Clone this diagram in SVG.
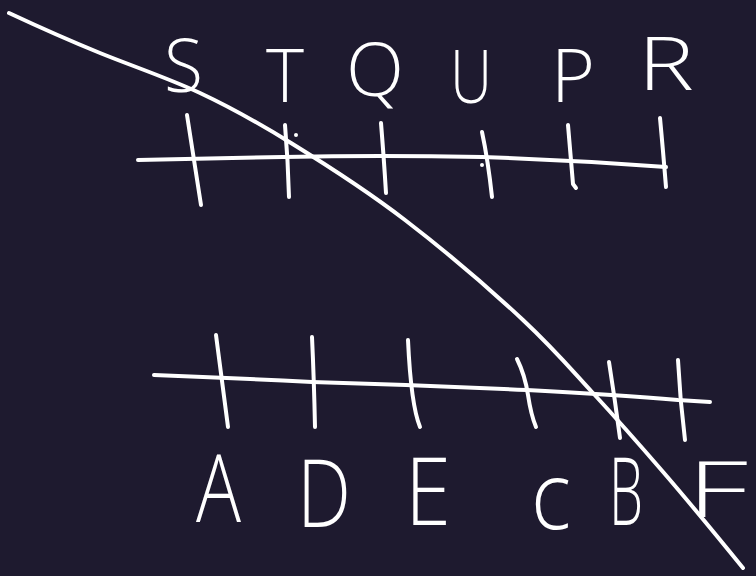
<svg xmlns="http://www.w3.org/2000/svg" width="756" height="576" viewBox="0 0 756 576">
<style>
.ln{fill:none;stroke:#ffffff;stroke-width:4;stroke-linecap:round;stroke-linejoin:round}
.lt{fill:#ffffff;font-family:"Open Sans","Lato","Liberation Sans",sans-serif;font-weight:300}
.top{font-size:74px}
.bot{font-size:94px}
</style>
<rect width="756" height="576" fill="#1e1a2f"/>
<g id="top-axis">
<path class="ln" d="M138,160 Q210,158 283,157 Q380,155 482,157 Q575,160 666,167"/>
<path class="ln" d="M187,115 Q194,160 201,205"/>
<path class="ln" d="M285,125 Q288,160 289,197"/>
<path class="ln" d="M381,123 Q384,160 386,193"/>
<path class="ln" d="M482,132 Q488,160 492,197"/>
<path class="ln" d="M568,125 Q571,160 573,184 L576,188"/>
<path class="ln" d="M660,118 Q663,150 666,187"/>
<circle cx="296" cy="135" r="2" fill="#ffffff"/>
<circle cx="482" cy="165" r="2" fill="#ffffff"/>
</g>
<g id="top-labels">
<text class="lt top" x="164" y="92" textLength="39" lengthAdjust="spacingAndGlyphs">S</text>
<text class="lt top" x="266" y="102" textLength="38" lengthAdjust="spacingAndGlyphs">T</text>
<text class="lt top" x="346" y="96" textLength="58" lengthAdjust="spacingAndGlyphs">Q</text>
<text class="lt top" x="450" y="103" textLength="42" lengthAdjust="spacingAndGlyphs">U</text>
<text class="lt top" x="551" y="102" textLength="44" lengthAdjust="spacingAndGlyphs">P</text>
<text class="lt top" x="638" y="90" textLength="56" lengthAdjust="spacingAndGlyphs">R</text>
</g>
<g id="bottom-axis">
<path class="ln" d="M154,375 Q230,378 312,382 Q420,385 527,390 Q620,395 678,400 L710,402"/>
<path class="ln" d="M216,335 Q222,380 228,427"/>
<path class="ln" d="M312,337 Q314,380 315,427"/>
<path class="ln" d="M408,340 Q411,405 420,427"/>
<path class="ln" d="M517,359 Q525,375 528,395 Q531,415 536,427"/>
<path class="ln" d="M609,362 Q615,400 620,438"/>
<path class="ln" d="M678,360 Q680,400 685,440"/>
</g>
<g id="bottom-labels">
<text class="lt bot" x="196" y="522" textLength="45" lengthAdjust="spacingAndGlyphs">A</text>
<text class="lt bot" x="297" y="527" textLength="54" lengthAdjust="spacingAndGlyphs">D</text>
<text class="lt bot" x="405" y="525" textLength="46" lengthAdjust="spacingAndGlyphs">E</text>
<text class="lt bot" x="531" y="529" textLength="40" lengthAdjust="spacingAndGlyphs">c</text>
<text class="lt bot" x="609" y="525" textLength="34" lengthAdjust="spacingAndGlyphs">B</text>
<text class="lt" x="687" y="517" font-size="78" textLength="61" lengthAdjust="spacingAndGlyphs">F</text>
</g>
<g id="connectors">
<path class="ln" d="M9,13 C24,20 68,40 100,53 C132,66 168,78 200,93 C232,108 257,122 291,143 C325,164 366,190 405,220 C444,250 492,291 523,320 C554,349 569,367 592,392 C616,418 639,444 664,473 C689,502 730,552 743,568"/>
</g>
</svg>
